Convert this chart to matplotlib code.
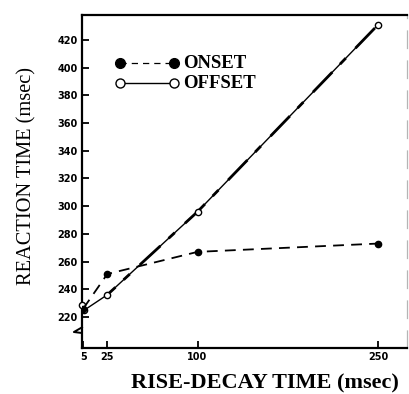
import matplotlib
matplotlib.use("Agg")
import matplotlib.pyplot as plt

# Data
onset_x = [5, 25, 100, 250]
onset_y = [226, 251, 267, 273]
offset_x = [6, 25, 100, 250]
offset_y = [225, 236, 296, 431]
offset_extra_x = [4]
offset_extra_y = [229]

x_ticks = [5, 25, 100, 250]
x_ticklabels = ["5", "25", "100", "250"]
y_ticks = [220, 240, 260, 280, 300, 320, 340, 360, 380, 400, 420]
y_ticklabels = [str(v) for v in y_ticks]

fig = plt.figure(figsize=(4.09, 3.94), dpi=100)
ax = fig.add_axes([82/409, 46/394, 325/409, 333/394])
ax.set_xlim(4, 274)
ax.set_ylim(197.6, 438)

# Offset series (open circles, solid line, heavier overlay)
ax.plot(offset_x, offset_y, color="black", lw=1.0, marker="o", ms=4.5,
        mfc="white", mec="black", mew=1.0, zorder=3)
ax.plot(offset_x[1:], offset_y[1:], color="black", lw=2.0,
        linestyle=(6, (10, 4, 3, 5)), zorder=2)
ax.plot(offset_extra_x, offset_extra_y, linestyle="none", marker="o", ms=4.5,
        mfc="white", mec="black", mew=1.0, zorder=4, clip_on=False)

# Onset series (filled circles, dashed line)
ax.plot(onset_x, onset_y, color="black", lw=1.3, linestyle=(0, (6, 4)),
        marker="o", ms=4.5, mfc="black", mec="black", zorder=4)

# Legend drawn manually
lx0, lx1, ltx = 0.117, 0.283, 0.31
ly_on, ly_off = 0.855, 0.795
ax.plot([lx0, lx1], [ly_on, ly_on], transform=ax.transAxes, color="black",
        lw=0.9, linestyle=(0, (5, 4)))
ax.plot([lx0, lx1], [ly_on, ly_on], transform=ax.transAxes, linestyle="none",
        marker="o", ms=7, mfc="black", mec="black")
ax.plot([lx0, lx1], [ly_off, ly_off], transform=ax.transAxes, color="black",
        lw=1.0, marker="o", ms=6.5, mfc="white", mec="black", mew=1.0)
ax.text(ltx, ly_on, "ONSET", transform=ax.transAxes, va="center", ha="left",
        fontsize=13.5, family="Liberation Serif", fontweight="bold")
ax.text(ltx, ly_off, "OFFSET", transform=ax.transAxes, va="center", ha="left",
        fontsize=13.5, family="Liberation Serif", fontweight="bold")

# Axes styling
for side in ["left", "bottom", "top"]:
    ax.spines[side].set_linewidth(1.6)
ax.spines["right"].set_color("#b5b5b5")
ax.spines["right"].set_linewidth(0.9)
ax.spines["right"].set_linestyle((0, (14, 10)))

ax.set_xticks(x_ticks)
ax.set_xticklabels(x_ticklabels)
ax.set_yticks(y_ticks)
ax.set_yticklabels(y_ticklabels)
ax.tick_params(direction="in", length=5, width=1.3, labelsize=7, pad=3,
               top=False, right=False)
for lab in ax.get_xticklabels() + ax.get_yticklabels():
    lab.set_fontweight("bold")

# Axis break mark on the y-axis
ax.plot([0.0, -0.025, 0.0, 0.0], [0.062, 0.048, 0.045, 0.03],
        transform=ax.transAxes, color="black", lw=1.4, clip_on=False)

fig.text(0.066, 0.553, "REACTION TIME (msec)", rotation=90, ha="center",
         va="center", fontsize=14.7, family="Liberation Serif")
fig.text(0.647, 0.026, "RISE-DECAY TIME (msec)", ha="center", va="center",
         fontsize=16, family="Liberation Serif", fontweight="bold")

fig.savefig("out.png", dpi=100)
